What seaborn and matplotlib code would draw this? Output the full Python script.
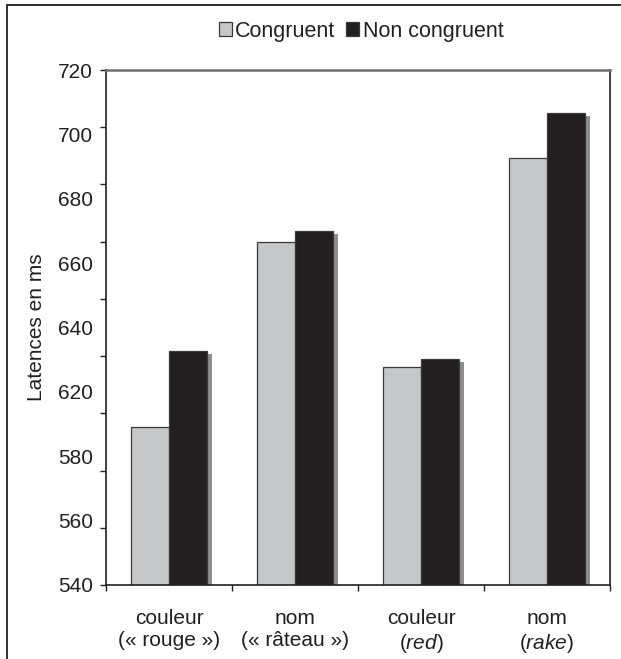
import matplotlib
matplotlib.use("Agg")
import matplotlib.pyplot as plt
import matplotlib.patheffects as pe
from matplotlib.lines import Line2D
import seaborn as sns
import pandas as pd

# ---- data ----
categories = ["couleur\n(« rouge »)", "nom\n(« râteau »)",
              "couleur\n($\\mathit{red}$)", "nom\n($\\mathit{rake}$)"]
congruent = [595.3, 660.0, 616.2, 689.4]
non_congruent = [621.9, 663.7, 619.0, 705.1]
series_names = ["Congruent", "Non congruent"]
y_ticks = [540, 560, 580, 600, 620, 640, 660, 680, 700, 720]
y_tick_labels = ["540", "560", "580", "620", "640", "660", "680", "700", "720"]
y_label = "Latences en ms"

df = pd.DataFrame({
    "cat": categories * 2,
    "cond": [series_names[0]] * 4 + [series_names[1]] * 4,
    "val": congruent + non_congruent,
})

sns.set_style("white")
plt.rcParams["font.family"] = ["Liberation Sans", "DejaVu Sans"]
plt.rcParams["mathtext.fontset"] = "custom"
plt.rcParams["mathtext.rm"] = "Liberation Sans"
plt.rcParams["mathtext.it"] = "Liberation Sans:italic"
plt.rcParams["text.color"] = "#231f20"

W, H = 621, 659
fig = plt.figure(figsize=(W / 100, H / 100), dpi=100)
ax = fig.add_axes([106 / W, 1 - 585 / H, (610 - 106) / W, (585 - 70) / H])
ax.xaxis.remove_overlapping_locs = False
ax.yaxis.remove_overlapping_locs = False

colors = {"Congruent": "#c6c7c9", "Non congruent": "#231f20"}
sns.barplot(data=df, x="cat", y="val", hue="cond", order=categories,
            hue_order=series_names, palette=colors, width=0.6, gap=0,
            saturation=1, edgecolor="#3a3a3c", linewidth=0.9, ax=ax,
            legend=True)

handles, labels = ax.get_legend_handles_labels()
if ax.legend_:
    ax.legend_.remove()

for p in ax.patches:
    p.set_path_effects([pe.SimplePatchShadow(offset=(3.6, -2.2),
                                             shadow_rgbFace="#8d8e90",
                                             alpha=1.0),
                        pe.Normal()])

ax.set_ylim(540, 720)
ax.set_xlim(-0.5, 3.5)

# major ticks (marks only)
ax.set_yticks(y_ticks)
ax.set_yticklabels([])
ax.set_xticks([-0.5, 0.5, 1.5, 2.5, 3.5])
ax.set_xticklabels([])
ax.tick_params(axis="both", which="major", direction="out", length=4.5,
               width=1.0, color="#231f20", left=True, bottom=True)

# labels on minor ticks (as they appear in the reference)
label_pos = [540 + k * 22.5 for k in range(len(y_tick_labels))]
ax.set_yticks(label_pos, minor=True)
ax.set_yticklabels(y_tick_labels, minor=True)
ax.set_xticks(range(len(categories)), minor=True)
ax.set_xticklabels(categories, minor=True, linespacing=1.25)
ax.tick_params(axis="y", which="minor", length=0, pad=9.6, labelsize=15,
               labelcolor="#231f20", left=True)
ax.tick_params(axis="x", which="minor", length=0, pad=17, labelsize=15,
               labelcolor="#231f20", bottom=True)

ax.set_xlabel("")
ax.set_ylabel("")

for s in ["left", "bottom", "right"]:
    ax.spines[s].set_color("#231f20")
    ax.spines[s].set_linewidth(1.2)
ax.spines["top"].set_color("#6d6e70")
ax.spines["top"].set_linewidth(1.8)

fig.text(37 / W, 1 - 327 / H, y_label, rotation=90, va="center",
         ha="center", fontsize=15, color="#231f20")

leg = fig.legend(handles, labels, loc="center", ncol=2,
                 bbox_to_anchor=(361 / W, 1 - 31 / H), frameon=False,
                 fontsize=15.5, handlelength=0.62, handleheight=0.62,
                 handletextpad=0.15, columnspacing=0.5, borderpad=0)
for h in leg.legend_handles:
    h.set_path_effects([])
    h.set_edgecolor("#3a3a3c")

# figure frame (left and top edges)
fig.add_artist(Line2D([7 / W, 7 / W], [0, 1 - 4.7 / H], color="#231f20",
                      lw=1.3, transform=fig.transFigure))
fig.add_artist(Line2D([7 / W, 1], [1 - 4.7 / H, 1 - 4.7 / H],
                      color="#231f20", lw=1.3, transform=fig.transFigure))

fig.savefig("out.png", dpi=100)
